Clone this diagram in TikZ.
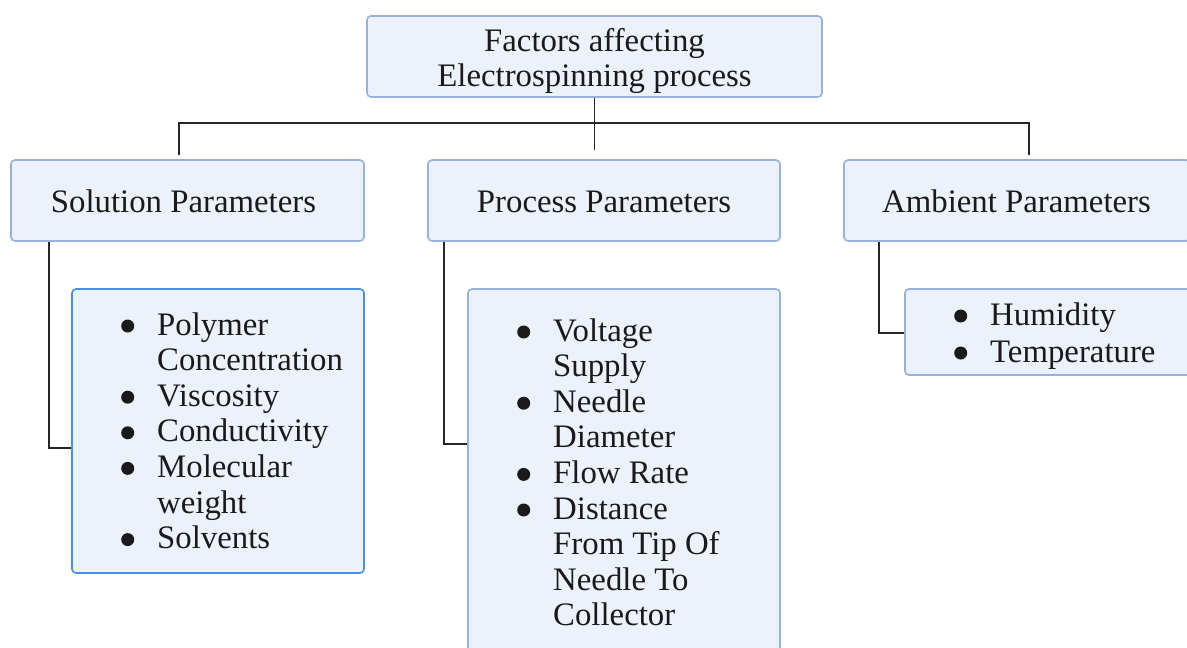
\documentclass[tikz,border=0pt]{standalone}
\usepackage{fontspec}
\setmainfont{Liberation Serif}
\definecolor{boxfill}{HTML}{EBF2FB}
\definecolor{boxline}{HTML}{98B1DC}
\definecolor{boxhi}{HTML}{4A90E2}
\definecolor{wirecol}{HTML}{262626}
\definecolor{ink}{HTML}{1A1A1A}
% round list marker, centred 9pt above the baseline
\newcommand{\dotmark}{\tikz[baseline=0pt,x=1pt,y=1pt]{%
  \useasboundingbox (0pt,0pt) rectangle (11pt,15pt);
  \fill[ink] (5.5pt,9pt) circle[radius=6.5pt];}}
\newcommand{\itemlist}[1]{\begin{tabular}[t]{@{}l@{\hspace{24pt}}l@{}}#1\end{tabular}}
\begin{document}
\begin{tikzpicture}[x=1pt,y=-1pt,
  font=\fontsize{32.8}{35.6}\selectfont,
  panel/.style={draw=boxline, fill=boxfill, line width=1.6pt, rounded corners=4pt, inner sep=0pt},
  txt/.style={inner sep=0pt, text=ink},
  wire/.style={draw=wirecol, line width=1.8pt}]
\useasboundingbox (0,0) rectangle (1187,648);
\clip (0,0) rectangle (1187,648);

% root
\node[panel, minimum width=455pt, minimum height=81pt] (top) at (594.5,56.5) {};
\node[txt, anchor=base] (toptext) at (594.5,51)
  {\begin{tabular}[t]{@{}c@{}}Factors affecting\\Electrospinning process\end{tabular}};

% category headers
\node[panel, minimum width=353pt, minimum height=81pt] (solhead) at (187.5,200.5) {};
\node[txt, anchor=base] (soltext) at (183.5,212) {Solution Parameters};
\node[panel, minimum width=352pt, minimum height=81pt] (prochead) at (604,200.5) {};
\node[txt, anchor=base] (proctext) at (604,212) {Process Parameters};
\node[panel, minimum width=346pt, minimum height=81pt] (ambhead) at (1017,200.5) {};
\node[txt, anchor=base] (ambtext) at (1016.5,212) {Ambient Parameters};

% item lists
\node[panel, draw=boxhi, minimum width=292pt, minimum height=284pt] (sollist) at (218,431) {};
\node[txt, anchor=base west] (solitems) at (122,335) {\itemlist{%
  \dotmark & Polymer\\ & Concentration\\
  \dotmark & Viscosity\\
  \dotmark & Conductivity\\
  \dotmark & Molecular\\ & weight\\
  \dotmark & Solvents}};

\node[panel, minimum width=312pt, minimum height=371pt] (proclist) at (624,474.5) {};
\node[txt, anchor=base west] (procitems) at (518,341) {\itemlist{%
  \dotmark & Voltage\\ & Supply\\
  \dotmark & Needle\\ & Diameter\\
  \dotmark & Flow Rate\\
  \dotmark & Distance\\ & From Tip Of\\ & Needle To\\ & Collector}};

\node[panel, minimum width=290pt, minimum height=86pt] (amblist) at (1050,332) {};
\node[txt, anchor=base west] (ambitems) at (955,325) {\renewcommand{\arraystretch}{1.04}\itemlist{%
  \dotmark & Humidity\\
  \dotmark & Temperature}};

% tree connectors
\coordinate (busL) at (179,123);
\coordinate (busR) at (1029,123);
\coordinate (busM) at (594.5,150);
\coordinate (dropL) at (179,155);
\coordinate (dropR) at (1029,155);
\draw[wire] (top.south) -- (busM);
\draw[wire] (dropL) -- (busL) -- (busR) -- (dropR);

\draw[wire] ([xshift=39pt]solhead.south west) |- ([yshift=-17pt]sollist.west);
\draw[wire] ([xshift=17pt]prochead.south west) |- ([yshift=30.5pt]proclist.west);
\draw[wire] ([xshift=36pt]ambhead.south west) |- ([yshift=-1pt]amblist.west);
\end{tikzpicture}
\end{document}
